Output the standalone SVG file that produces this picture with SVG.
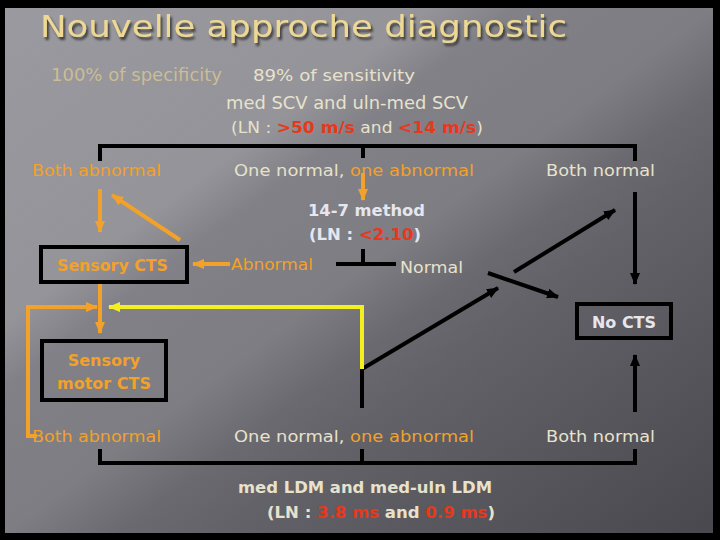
<svg xmlns="http://www.w3.org/2000/svg" width="720" height="540" viewBox="0 0 720 540">
<defs>
<linearGradient id="bg" x1="0" y1="0" x2="1" y2="1">
<stop offset="0" stop-color="#9a9aa0"/>
<stop offset="0.35" stop-color="#828288"/>
<stop offset="0.65" stop-color="#626268"/>
<stop offset="1" stop-color="#48484e"/>
</linearGradient>
<linearGradient id="streak" x1="0" y1="0" x2="1" y2="1">
<stop offset="0" stop-color="#ffffff" stop-opacity="0"/>
<stop offset="0.3" stop-color="#ffffff" stop-opacity="0.12"/>
<stop offset="0.36" stop-color="#ffffff" stop-opacity="0"/>
<stop offset="0.5" stop-color="#ffffff" stop-opacity="0.08"/>
<stop offset="0.58" stop-color="#ffffff" stop-opacity="0"/>
<stop offset="1" stop-color="#ffffff" stop-opacity="0"/>
</linearGradient>
<filter id="sh" x="-5%" y="-20%" width="110%" height="150%">
<feDropShadow dx="2" dy="3" stdDeviation="1" flood-color="#2a2a2a" flood-opacity="0.8"/>
</filter>
<marker id="ao" viewBox="0 0 12 10" refX="11" refY="5" markerWidth="12" markerHeight="10" markerUnits="userSpaceOnUse" orient="auto"><path d="M0,0 L12,5 L0,10 Z" fill="#f2a12a"/></marker>
<marker id="ab" viewBox="0 0 12 10" refX="11" refY="5" markerWidth="12" markerHeight="10" markerUnits="userSpaceOnUse" orient="auto"><path d="M0,0 L12,5 L0,10 Z" fill="#000"/></marker>
<marker id="ay" viewBox="0 0 12 10" refX="11" refY="5" markerWidth="12" markerHeight="10" markerUnits="userSpaceOnUse" orient="auto"><path d="M0,0 L12,5 L0,10 Z" fill="#f4f01e"/></marker>
</defs>
<style>
text{font-family:"DejaVu Sans","Liberation Sans",sans-serif;}
.t{font-size:16.5px;}
.bt{font-size:16px;font-weight:bold;}
.b{font-weight:bold;}
.or{fill:#f2a12a;}
.be{fill:#e8e2cc;}
.wh{fill:#e6e6ee;}
.rd{fill:#e8381c;}
.k{stroke:#000;stroke-width:4;fill:none;}
.o{stroke:#f2a12a;stroke-width:4;fill:none;}
.y{stroke:#f4f01e;stroke-width:4;fill:none;}
.box{stroke:#000;stroke-width:4;fill:none;}
</style>
<rect width="720" height="540" fill="#000"/>
<rect x="5" y="8" width="708" height="525" fill="url(#bg)"/>
<rect x="5" y="8" width="708" height="525" fill="url(#streak)"/>

<g id="title">
<text x="40" y="37" font-size="30" fill="#eed994" filter="url(#sh)" textLength="527" lengthAdjust="spacingAndGlyphs">Nouvelle approche diagnostic</text>
</g>
<g id="header">
<text x="51" y="81" font-size="17" fill="#cbbd94" textLength="171" lengthAdjust="spacingAndGlyphs">100% of specificity</text>
<text x="253" y="81" font-size="16.2" class="be" textLength="162" lengthAdjust="spacingAndGlyphs">89% of sensitivity</text>
<text x="226" y="109" font-size="17" class="be" textLength="242" lengthAdjust="spacingAndGlyphs">med SCV and uln-med SCV</text>
<text x="231" y="133" font-size="16.6" class="be" textLength="252" lengthAdjust="spacingAndGlyphs">(LN : <tspan class="rd b">&gt;50 m/s</tspan> and <tspan class="rd b">&lt;14 m/s</tspan>)</text>
</g>

<g id="connectors">
<path class="k" d="M100,161 V146 H635 V161 M363,146 V158"/>
<line class="o" x1="100" y1="189" x2="100" y2="232" marker-end="url(#ao)"/>
<line class="o" x1="180" y1="240" x2="112" y2="195" marker-end="url(#ao)"/>
<line class="o" x1="230" y1="264" x2="193" y2="264" marker-end="url(#ao)"/>
<line class="o" x1="363" y1="173" x2="363" y2="200" marker-end="url(#ao)"/>
<path class="k" d="M336,264 H396 M363,249 V264"/>
<line class="k" x1="488" y1="273" x2="558" y2="297" marker-end="url(#ab)"/>
<line class="k" x1="514" y1="272" x2="615" y2="210" marker-end="url(#ab)"/>
<line class="k" x1="362" y1="369" x2="498" y2="288" marker-end="url(#ab)"/>
<line class="k" x1="635" y1="192" x2="635" y2="284" marker-end="url(#ab)"/>
<line class="k" x1="635" y1="412" x2="635" y2="355" marker-end="url(#ab)"/>
<path class="y" d="M362,369 V307 H109" marker-end="url(#ay)"/>
<line class="k" x1="362" y1="369" x2="362" y2="408"/>
<line class="o" x1="100" y1="284" x2="100" y2="333" marker-end="url(#ao)"/>
<path class="o" d="M37,436 H28 V307 H97" marker-end="url(#ao)"/>
<path class="k" d="M100,449 V463 H635 V449 M362,449 V463"/>
</g>

<g id="row1">
<text x="32" y="176" font-size="16" class="or" textLength="129" lengthAdjust="spacingAndGlyphs">Both abnormal</text>
<text x="234" y="176" class="t be" textLength="240" lengthAdjust="spacingAndGlyphs">One normal, <tspan class="or">one abnormal</tspan></text>
<text x="546" y="176" class="t be" textLength="109" lengthAdjust="spacingAndGlyphs">Both normal</text>
</g>
<g id="sensory-cts">
<rect class="box" x="41" y="247" width="146" height="35"/>
<text x="57" y="271" class="or" font-size="15.8" font-weight="bold" textLength="111" lengthAdjust="spacingAndGlyphs">Sensory CTS</text>
</g>
<g id="method-147">
<text x="308" y="216" class="bt wh" textLength="117" lengthAdjust="spacingAndGlyphs">14-7 method</text>
<text x="309" y="240" class="bt wh" textLength="112" lengthAdjust="spacingAndGlyphs">(LN : <tspan class="rd">&lt;2.10</tspan>)</text>
</g>
<g id="abnormal">
<text x="231" y="270" class="t or" textLength="82" lengthAdjust="spacingAndGlyphs">Abnormal</text>
</g>
<g id="normal">
<text x="400" y="273" class="t be" textLength="63" lengthAdjust="spacingAndGlyphs">Normal</text>
</g>
<g id="no-cts">
<rect class="box" x="577" y="304" width="94" height="34"/>
<text x="624" y="328" class="bt wh" text-anchor="middle">No CTS</text>
</g>
<g id="sensory-motor-cts">
<rect class="box" x="42" y="341" width="124" height="59"/>
<text x="104" y="366" class="bt or" text-anchor="middle">Sensory</text>
<text x="104" y="389" class="bt or" text-anchor="middle">motor CTS</text>
</g>
<g id="row2">
<text x="32" y="442" font-size="16" class="or" textLength="129" lengthAdjust="spacingAndGlyphs">Both abnormal</text>
<text x="234" y="442" class="t be" textLength="240" lengthAdjust="spacingAndGlyphs">One normal, <tspan class="or">one abnormal</tspan></text>
<text x="546" y="442" class="t be" textLength="109" lengthAdjust="spacingAndGlyphs">Both normal</text>
</g>
<g id="footer">
<text x="238" y="493" class="bt be" textLength="254" lengthAdjust="spacingAndGlyphs">med LDM and med-uln LDM</text>
<text x="267" y="518" class="bt be" textLength="228" lengthAdjust="spacingAndGlyphs">(LN : <tspan class="rd">3.8 ms</tspan> and <tspan class="rd">0.9 ms</tspan>)</text>
</g>
</svg>
